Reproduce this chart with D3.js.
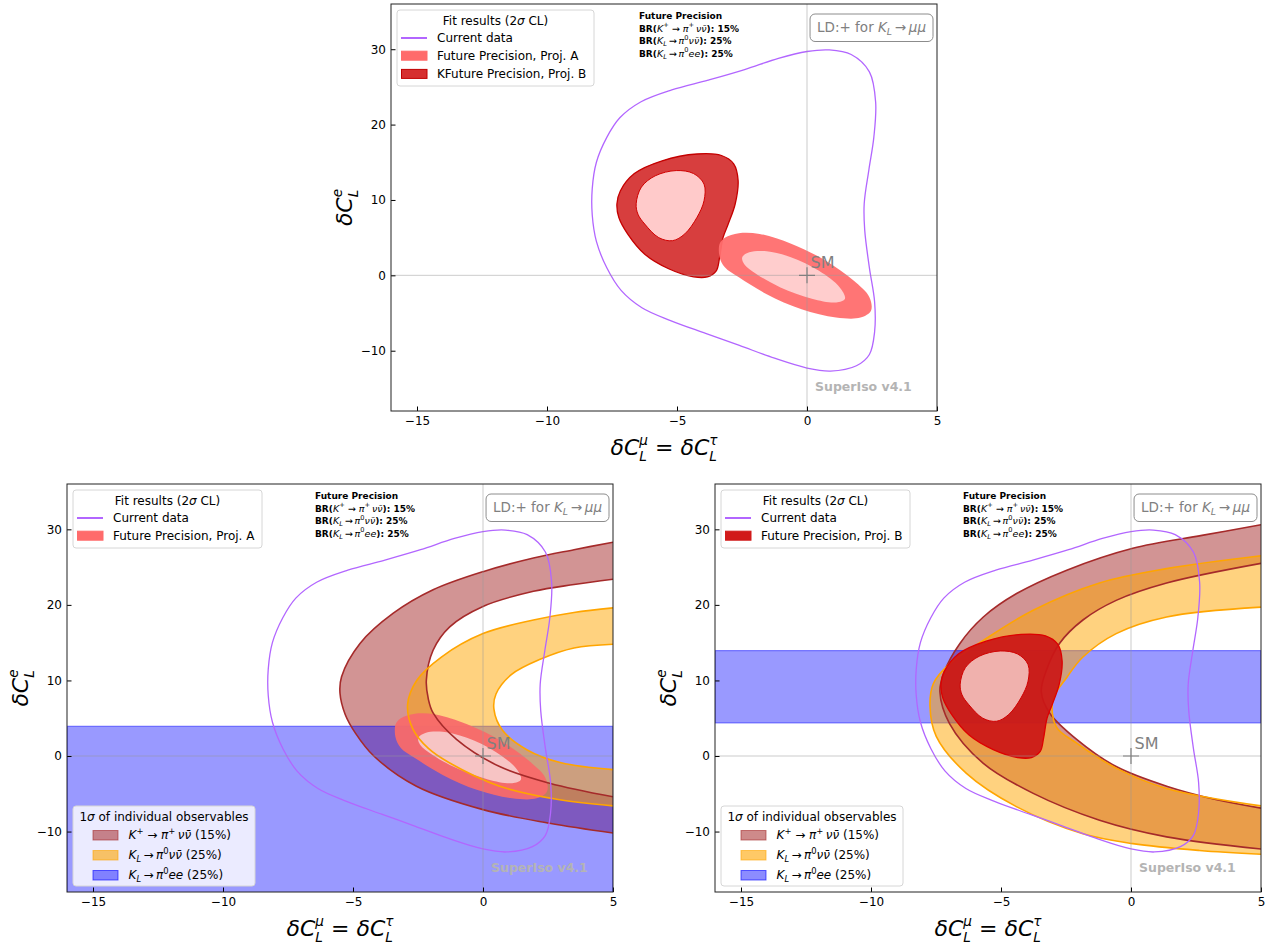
<!DOCTYPE html>
<html>
<head>
<meta charset="utf-8">
<script src="https://cdn.jsdelivr.net/npm/d3@7"></script>
<style>
body { margin: 0; background: #fff; }
svg { display: block; font-family: "DejaVu Sans", sans-serif; }
</style>
</head>
<body>
<svg></svg>
<script>
//svg size
const width = 1278;
const height = 945;

//axis domain and ticks
const xDomain = [-16, 5];
const yDomain = [-18, 36];
const xTicks = [-15, -10, -5, 0, 5];
const yTicks = [-10, 0, 10, 20, 30];

//current data 2 sigma contour (dC_L^mu, dC_L^e)
const currentData = [[0.86,29.9],[1.7,29.3],[2.4,27.0],[2.64,23.0],[2.57,18.3],[2.38,14.0],[2.2,9.5],[2.22,6.0],[2.4,1.0],[2.6,-3.5],[2.6,-7.5],[2.4,-10.5],[1.9,-12.0],[0.9,-12.7],[0,-12.3],[-1.25,-11.0],[-2.6,-9.3],[-3.9,-7.7],[-5.25,-6.0],[-6.35,-4.3],[-7.15,-2.0],[-7.7,1.0],[-8.1,4.5],[-8.26,8.0],[-8.26,11.5],[-8.1,15.0],[-7.7,18.3],[-7.2,20.9],[-6.4,23.0],[-5.2,24.6],[-3.8,25.9],[-2.4,27.3],[-1.1,28.8],[0,29.7]];

//projection A contours
const projAOuter = [[-3.36,4.2],[-3.16,5.0],[-2.62,5.6],[-1.82,5.5],[-0.61,4.2],[0.72,1.95],[1.79,-0.7],[2.4,-2.9],[2.46,-4.7],[2.06,-5.6],[1.12,-5.6],[-0.21,-4.5],[-1.55,-2.5],[-2.62,-0.27],[-3.16,1.06],[-3.36,2.4]];
const projAInner = [[-2.49,2.4],[-2.22,3.05],[-1.55,3.2],[-0.62,2.4],[0.46,0.6],[1.26,-1.6],[1.46,-3.1],[1.12,-3.6],[0.19,-3.1],[-1.02,-1.6],[-1.95,0.18],[-2.42,1.5]];

//projection B contours
const projBOuter = [[-7.31,9.5],[-7.18,11.2],[-6.64,13.5],[-5.57,15.2],[-4.23,16.1],[-3.29,15.9],[-2.82,14.8],[-2.65,12.6],[-2.76,9.5],[-3.03,6.8],[-3.23,5.0],[-3.36,2.4],[-3.49,0.6],[-3.83,-0.2],[-4.36,-0.2],[-5.3,0.84],[-6.24,2.8],[-6.9,5.5],[-7.24,7.7]];
const projBInner = [[-6.57,9.5],[-6.37,11.7],[-5.84,13.2],[-5.03,13.9],[-4.36,13.5],[-3.96,12.1],[-3.96,9.9],[-4.23,7.7],[-4.7,5.5],[-5.17,4.6],[-5.7,5.0],[-6.24,6.8],[-6.5,8.1]];

//1 sigma bands, projection A
const kpOuterA = [[5,28.3],[3.5,27.3],[1.94,26.2],[0,24.4],[-1.92,22.0],[-3.45,18.9],[-4.73,14.9],[-5.44,10.5],[-5.5,8.3],[-5.3,5.5],[-4.9,3.0],[-4.2,0],[-2.56,-4.0],[0,-7.1],[2.56,-8.9],[5,-10.2]];
const kpInnerA = [[5,23.4],[3.5,22.7],[1.94,21.8],[0,19.8],[-1.28,17.1],[-1.92,14.0],[-2.18,10.0],[-2.1,7.5],[-1.92,5.7],[-1.02,2.2],[0.64,-1.4],[2.56,-3.6],[5,-5.4]];
const klnnOuterA = [[5,19.6],[3.5,19.0],[1.94,18.0],[0,16.2],[-1.6,13.1],[-2.55,10.0],[-2.9,6.8],[-2.7,3.6],[-2.1,1.0],[-1.28,-0.93],[0.64,-4.0],[2.95,-5.8],[5,-6.6]];
const klnnInnerA = [[5,14.8],[3.5,14.3],[2.2,12.8],[1.1,10.8],[0.5,8.2],[0.42,6.2],[0.75,3.4],[1.7,0.8],[3.0,-0.9],[5,-1.8]];
const kleeBandA = [-22, 3.93];

//1 sigma bands, projection B
const kpOuterB = [[5,30.6],[2.73,29.2],[0.07,27.5],[-2.47,24.6],[-4.4,21.5],[-5.68,18.4],[-6.58,14.9],[-7.2,11.0],[-7.35,8.5],[-6.98,4.3],[-5.68,-0.97],[-3.76,-4.95],[-1.21,-8.5],[1.37,-10.7],[5,-12.3]];
const kpInnerB = [[5,25.5],[1.37,22.9],[-0.57,20.6],[-1.85,18.0],[-2.75,14.9],[-3.26,11.3],[-3.45,8.5],[-3.13,5.7],[-2.09,2.2],[-0.57,-1.4],[1.37,-4.0],[3.3,-5.8],[5,-6.9]];
const klnnOuterB = [[5,26.5],[1.37,24.8],[-1.21,22.9],[-3.76,19.3],[-5.68,15.3],[-6.98,12.2],[-7.6,9.6],[-7.73,6.55],[-7.49,2.6],[-6.33,-2.3],[-4.41,-6.7],[-1.85,-10.3],[0.07,-11.6],[2.63,-12.5],[5,-13.0]];
const klnnInnerB = [[5,19.7],[1.37,18.4],[-0.57,16.2],[-1.85,13.1],[-2.47,10.4],[-3.0,7.5],[-2.88,3.9],[-2.09,1.7],[-0.57,-1.6],[1.37,-4.3],[5,-6.6]];
const kleeBandB = [4.38, 13.95];

//SM point
const smPoint = [0, 0];

//precision texts
const precisionPct = ['15%', '25%', '25%'];

//colours
const current_col = '#b266ff';
const brown_col = '#a52a2a';
const orange_col = '#ffa500';
const blue_col = '#0000ff';
const grey_txt = '#808080';

//math pieces for the three observables
const obsMath = [
  [{t:'K', f:'i', sup:'+', supN:true}, {t:' \u2192 ', f:'n'}, {t:'\u03c0', f:'i', sup:'+', supN:true}, {t:'\u2009\u03bd\u03bd\u0304', f:'i'}],
  [{t:'K', f:'i', sub:'L'}, {t:'\u2009\u2192\u2009', f:'n'}, {t:'\u03c0', f:'i', sup:'0', supN:true}, {t:'\u03bd\u03bd\u0304', f:'i'}],
  [{t:'K', f:'i', sub:'L'}, {t:'\u2009\u2192\u2009', f:'n'}, {t:'\u03c0', f:'i', sup:'0', supN:true}, {t:'ee', f:'i'}]
];

var svg = d3.select('svg').attr('width', width).attr('height', height);

//writes a row of text pieces (one text element) with stacked sup/sub scripts
function mathText(g, x, y, parts, size, anchor, sc) {
  sc = sc || 0.7;
  var txt = g.append('text').attr('font-size', size).style('white-space', 'pre');
  var cx = 0;
  parts.forEach(function(p) {
    var ps = p.size || size;
    if (p.t) {
      var el = txt.append('tspan')
        .attr('x', cx).attr('y', 0)
        .attr('font-size', ps)
        .attr('font-style', p.f === 'i' ? 'italic' : 'normal')
        .attr('font-weight', p.f === 'b' ? 'bold' : 'normal')
        .text(p.t);
      cx += el.node().getComputedTextLength();
    }
    var w = 0;
    var stacked = p.sup && p.sub;
    if (p.sup) {
      var s = txt.append('tspan')
        .attr('x', cx).attr('y', -ps * (stacked ? 0.46 : 0.44))
        .attr('font-size', ps * sc)
        .attr('font-style', p.supN ? 'normal' : 'italic')
        .attr('font-weight', 'normal')
        .text(p.sup);
      w = Math.max(w, s.node().getComputedTextLength());
    }
    if (p.sub) {
      var b = txt.append('tspan')
        .attr('x', cx).attr('y', ps * (stacked ? 0.28 : 0.24))
        .attr('font-size', ps * sc)
        .attr('font-style', 'italic')
        .attr('font-weight', 'normal')
        .text(p.sub);
      w = Math.max(w, b.node().getComputedTextLength());
    }
    cx += w;
  });
  var dx = anchor === 'middle' ? -cx / 2 : (anchor === 'end' ? -cx : 0);
  txt.attr('transform', 'translate(' + (x + dx) + ',' + y + ')');
  txt.width = cx;
  return txt;
}

//panel settings
var panels = [
  {id: 0, left: 391, top: 4, right: 937, bottom: 411, mode: 'AB'},
  {id: 1, left: 67, top: 484, right: 613, bottom: 892, mode: 'A'},
  {id: 2, left: 715, top: 484, right: 1261, bottom: 892, mode: 'B'}
];

function drawPanel(p) {
  var x = d3.scaleLinear().domain(xDomain).range([p.left, p.right]);
  var y = d3.scaleLinear().domain(yDomain).range([p.bottom, p.top]);

  var closed = d3.line().x(d => x(d[0])).y(d => y(d[1])).curve(d3.curveCatmullRomClosed.alpha(0.5));
  var open = d3.line().x(d => x(d[0])).y(d => y(d[1])).curve(d3.curveCatmullRom.alpha(0.5));
  var band = function(outer, inner) {
    return open(outer) + open(inner.slice().reverse()).replace(/^M/, 'L') + 'Z';
  };

  svg.append('clipPath').attr('id', 'clip' + p.id)
     .append('rect')
     .attr('x', p.left).attr('y', p.top)
     .attr('width', p.right - p.left).attr('height', p.bottom - p.top);

  var g = svg.append('g');
  var plot = g.append('g').attr('clip-path', 'url(#clip' + p.id + ')');

  //bands
  var kp, kl, klee;
  if (p.mode === 'A') { kp = [kpOuterA, kpInnerA]; kl = [klnnOuterA, klnnInnerA]; klee = kleeBandA; }
  if (p.mode === 'B') { kp = [kpOuterB, kpInnerB]; kl = [klnnOuterB, klnnInnerB]; klee = kleeBandB; }

  var strokes = null;
  if (kp) {
    plot.append('path').attr('d', band(kp[0], kp[1]))
        .attr('fill', brown_col).attr('fill-opacity', 0.5).attr('stroke', 'none');
    plot.append('rect')
        .attr('x', p.left).attr('width', p.right - p.left)
        .attr('y', y(klee[1])).attr('height', y(klee[0]) - y(klee[1]))
        .attr('fill', blue_col).attr('fill-opacity', 0.4)
        .attr('stroke', blue_col).attr('stroke-opacity', 0.45).attr('stroke-width', 1.2);
    plot.append('path').attr('d', band(kl[0], kl[1]))
        .attr('fill', orange_col).attr('fill-opacity', 0.5).attr('stroke', 'none');

    strokes = function(layer) {
      [kp[0], kp[1]].forEach(function(c) {
        layer.append('path').attr('d', open(c)).attr('fill', 'none')
             .attr('stroke', brown_col).attr('stroke-width', 1.6);
      });
      [kl[0], kl[1]].forEach(function(c) {
        layer.append('path').attr('d', open(c)).attr('fill', 'none')
             .attr('stroke', orange_col).attr('stroke-width', 1.6);
      });
    };
    if (p.mode === 'B') strokes(plot);
  }

  //fit contours
  if (p.mode === 'AB' || p.mode === 'B') {
    var bOut = p.mode === 'B' ? '#cb1616' : '#d42e2e';
    var bIn = p.mode === 'B' ? '#f0b1ad' : '#ffcaca';
    plot.append('path').attr('d', closed(projBOuter))
        .attr('fill', bOut).attr('fill-opacity', 0.92)
        .attr('stroke', p.mode === 'B' ? '#dd0000' : '#c40000').attr('stroke-width', 1.3);
    plot.append('path').attr('d', closed(projBInner))
        .attr('fill', bIn).attr('stroke', '#d00000').attr('stroke-width', 1);
  }
  if (p.mode === 'AB' || p.mode === 'A') {
    plot.append('path').attr('d', closed(projAOuter))
        .attr('fill', p.mode === 'A' ? '#f86a6a' : '#ff6e6e').attr('fill-opacity', 0.95);
    plot.append('path').attr('d', closed(projAInner))
        .attr('fill', p.mode === 'A' ? '#f7c4c4' : '#ffcdcd');
  }
  if (p.mode === 'A') strokes(plot);

  //current data
  plot.append('path').attr('d', closed(currentData))
      .attr('fill', 'none').attr('stroke', current_col).attr('stroke-width', 1.3);

  //zero lines
  plot.append('line').attr('x1', x(0)).attr('x2', x(0)).attr('y1', p.top).attr('y2', p.bottom)
      .attr('stroke', '#999').attr('stroke-opacity', 0.5).attr('stroke-width', 1);
  plot.append('line').attr('x1', p.left).attr('x2', p.right).attr('y1', y(0)).attr('y2', y(0))
      .attr('stroke', '#999').attr('stroke-opacity', 0.5).attr('stroke-width', 1);

  //SM marker
  var sx = x(smPoint[0]), sy = y(smPoint[1]);
  plot.append('path')
      .attr('d', 'M' + (sx - 8) + ',' + sy + 'H' + (sx + 8) + 'M' + sx + ',' + (sy - 8) + 'V' + (sy + 8))
      .attr('stroke', grey_txt).attr('stroke-width', 1.2);
  g.append('text').attr('x', sx + 3.5).attr('y', sy - 7.5)
   .attr('font-size', 16).attr('fill', grey_txt).text('SM');

  //SuperIso label
  g.append('text').attr('x', p.left + 424).attr('y', p.bottom - 20)
   .attr('font-size', 12.5).attr('font-weight', 'bold').attr('fill', '#b4b4b4')
   .text('SuperIso v4.1');

  //future precision block
  var fx = p.left + 248, fy = p.top + 15;
  g.append('text').attr('x', fx).attr('y', fy)
   .attr('font-size', 9).attr('font-weight', 'bold').text('Future Precision');
  obsMath.forEach(function(m, i) {
    var parts = [{t: 'BR(', f: 'b'}].concat(m.map(function(q) { return Object.assign({}, q, {size: 9.5}); }))
      .concat([{t: '): ' + precisionPct[i], f: 'b'}]);
    mathText(g, fx, fy + 12.5 * (i + 1), parts, 9, 'start');
  });

  //LD box
  var ld = g.append('g');
  var ldText = mathText(ld, 0, 0, [{t: 'LD:+ for ', f: 'n'}, {t: 'K', f: 'i', sub: 'L'}, {t: '\u2009\u2192\u2009', f: 'n'}, {t: '\u03bc\u03bc', f: 'i'}], 13.5, 'start');
  ldText.attr('fill', grey_txt);
  var bw = ldText.width + 14;
  ld.insert('rect', ':first-child')
    .attr('x', -7).attr('y', -17.5).attr('width', bw).attr('height', 27.5)
    .attr('rx', 5).attr('fill', '#fff').attr('stroke', '#8c8c8c').attr('stroke-width', 1);
  ld.attr('transform', 'translate(' + (p.right - 4 - bw + 7) + ',' + (p.top + 27.5) + ')');

  //fit results legend
  var entries = [{type: 'line', col: current_col, label: 'Current data'}];
  if (p.mode !== 'B') entries.push({type: 'patch', col: '#ff6b6b', edge: '#ff6b6b', label: 'Future Precision, Proj. A'});
  if (p.mode === 'AB') entries.push({type: 'patch', col: '#d62f2f', edge: '#c00000', label: 'KFuture Precision, Proj. B'});
  if (p.mode === 'B') entries.push({type: 'patch', col: '#d11a1a', edge: '#d11a1a', label: 'Future Precision, Proj. B'});
  var lw = p.mode === 'AB' ? 197 : 189;
  var lg = g.append('g').attr('transform', 'translate(' + (p.left + 6) + ',' + (p.top + 6) + ')');
  lg.append('rect').attr('width', lw).attr('height', 22 + entries.length * 18)
    .attr('rx', 3).attr('fill', '#fff').attr('fill-opacity', 0.8)
    .attr('stroke', '#d6d6d6').attr('stroke-width', 1);
  mathText(lg, lw / 2, 14.7, [{t: 'Fit results (2', f: 'n'}, {t: '\u03c3', f: 'i'}, {t: ' CL)', f: 'n'}], 12, 'middle');
  entries.forEach(function(e, i) {
    var ry = 27.5 + i * 18.2;
    if (e.type === 'line') {
      lg.append('line').attr('x1', 4).attr('x2', 30).attr('y1', ry + 0.5).attr('y2', ry + 0.5)
        .attr('stroke', e.col).attr('stroke-width', 2);
    } else {
      lg.append('rect').attr('x', 4.5).attr('y', ry - 4.5).attr('width', 25.5).attr('height', 9)
        .attr('fill', e.col).attr('stroke', e.edge).attr('stroke-width', 1);
    }
    lg.append('text').attr('x', 40).attr('y', ry + 4.3).attr('font-size', 12).text(e.label);
  });

  //individual observables legend
  if (kp) {
    var og = g.append('g').attr('transform', 'translate(' + (p.left + 6) + ',' + (p.bottom - 86) + ')');
    og.append('rect').attr('width', 182).attr('height', 80)
      .attr('rx', 3).attr('fill', '#fff').attr('fill-opacity', 0.8)
      .attr('stroke', '#d6d6d6').attr('stroke-width', 1);
    mathText(og, 91, 14.5, [{t: '1', f: 'n'}, {t: '\u03c3', f: 'i'}, {t: ' of individual observables', f: 'n'}], 12, 'middle');
    var obsCols = [brown_col, orange_col, blue_col];
    var obsOp = [0.55, 0.6, 0.45];
    obsMath.forEach(function(m, i) {
      var ry = 29 + i * 20;
      og.append('rect').attr('x', 20).attr('y', ry - 4.5).attr('width', 25).attr('height', 9.5)
        .attr('fill', obsCols[i]).attr('fill-opacity', obsOp[i])
        .attr('stroke', obsCols[i]).attr('stroke-opacity', 0.6);
      mathText(og, 55.5, ry + 4, m.concat([{t: ' (' + precisionPct[i] + ')', f: 'n'}]), 12, 'start');
    });
  }

  //axes
  var xAxis = g.append('g').attr('transform', 'translate(0,' + p.bottom + ')')
    .call(d3.axisBottom(x).tickValues(xTicks).tickSizeInner(-4.5).tickSizeOuter(0).tickPadding(5.5));
  var yAxis = g.append('g').attr('transform', 'translate(' + p.left + ',0)')
    .call(d3.axisLeft(y).tickValues(yTicks).tickSizeInner(-4.5).tickSizeOuter(0).tickPadding(5));
  [xAxis, yAxis].forEach(function(a) {
    a.select('.domain').remove();
    a.selectAll('text').attr('font-size', 12).attr('font-family', '"DejaVu Sans", sans-serif').attr('fill', '#000');
    a.selectAll('line').attr('stroke', '#000');
  });

  //frame
  g.append('rect').attr('x', p.left).attr('y', p.top)
   .attr('width', p.right - p.left).attr('height', p.bottom - p.top)
   .attr('fill', 'none').attr('stroke', '#222').attr('stroke-width', 1);

  //axis labels
  var midX = (p.left + p.right) / 2;
  mathText(g, midX, p.bottom + 44, [
    {t: '\u03b4C', f: 'i', sup: '\u03bc', sub: 'L'},
    {t: ' = ', f: 'n'},
    {t: '\u03b4C', f: 'i', sup: '\u03c4', sub: 'L'}
  ], 22, 'middle', 0.62);
  var yl = g.append('g').attr('transform', 'translate(' + (p.left - 39) + ',' + ((p.top + p.bottom) / 2) + ') rotate(-90)');
  mathText(yl, 0, 0, [{t: '\u03b4C', f: 'i', sup: 'e', sub: 'L'}], 22, 'middle', 0.62);
}

panels.forEach(drawPanel);
</script>
</body>
</html>
